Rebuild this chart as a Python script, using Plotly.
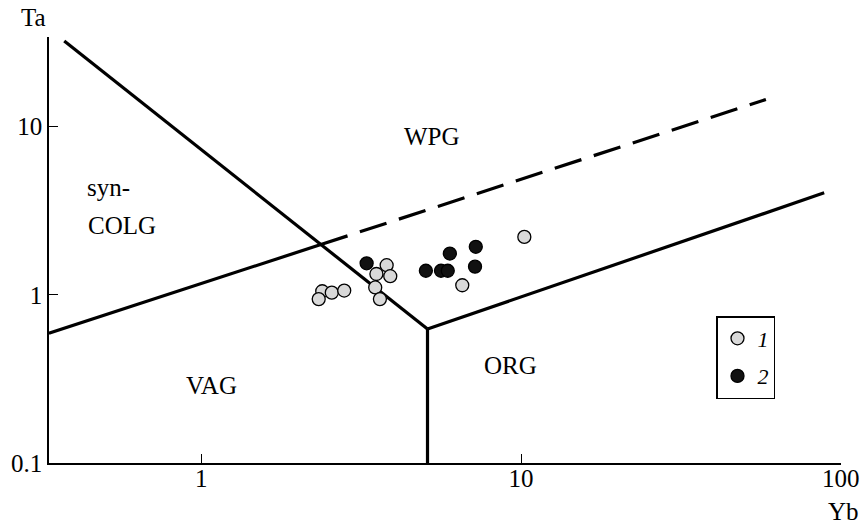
import plotly.graph_objects as go

# ---- data ----
group1_yb = [10.24, 2.39, 2.56, 2.80, 2.33, 3.80, 3.53, 3.90, 3.50, 3.62, 6.55]
group1_ta = [2.21, 1.05, 1.03, 1.06, 0.943, 1.50, 1.33, 1.29, 1.106, 0.943, 1.14]
group2_yb = [3.29, 5.04, 5.62, 5.90, 5.99, 7.22, 7.18]
group2_ta = [1.54, 1.39, 1.39, 1.39, 1.76, 1.93, 1.47]

# field boundaries (Yb, Ta)
line_a_yb = [0.373, 5.10]
line_a_ta = [32.3, 0.626]
line_org_yb = [5.10, 5.10]
line_org_ta = [0.626, 0.1]
line_orgwpg_yb = [5.10, 88.7]
line_orgwpg_ta = [0.626, 4.04]
line_b_yb = [0.334, 2.367]
line_b_ta = [0.592, 1.99]
line_dash_yb = [2.367, 58.3]
line_dash_ta = [1.99, 14.5]

x_tickvals = [1, 10, 100]
x_ticktext = ["1", "10", "100"]
y_tickvals = [0.1, 1, 10]
y_ticktext = ["0.1", "1", "10"]

FONT = "Liberation Serif"

fig = go.Figure()

def add_line(xs, ys, dash="solid"):
    fig.add_trace(go.Scatter(x=xs, y=ys, mode="lines", showlegend=False,
                             line=dict(color="black", width=3.2, dash=dash),
                             hoverinfo="skip"))

add_line(line_a_yb, line_a_ta)
add_line(line_org_yb, line_org_ta)
add_line(line_orgwpg_yb, line_orgwpg_ta)
add_line(line_b_yb, line_b_ta)
add_line(line_dash_yb, line_dash_ta, dash="28px,13px")

fig.add_trace(go.Scatter(x=group1_yb, y=group1_ta, mode="markers", name="<i>1</i>",
                         legendgroup="g1",
                         marker=dict(size=13, color="#d9d9d9",
                                     line=dict(color="black", width=1.3))))
fig.add_trace(go.Scatter(x=group2_yb, y=group2_ta, mode="markers", name="<i>2</i>",
                         legendgroup="g2",
                         marker=dict(size=13, color="#111111",
                                     line=dict(color="black", width=1.3))))

W, H = 862, 525
L, R, T, B = 49, 841, 37, 463

def px(xs):
    return (xs - L) / (R - L)

def py(ys):
    return (B - ys) / (B - T)

labels = [
    ("WPG", 432, 137),
    ("syn-", 108, 187),
    ("COLG", 122, 226),
    ("VAG", 211, 385),
    ("ORG", 510, 365),
]
annotations = []
for txt, x0, y0 in labels:
    annotations.append(dict(text=txt, x=px(x0), y=py(y0), xref="paper", yref="paper",
                            showarrow=False, xanchor="center", yanchor="middle",
                            font=dict(family=FONT, size=25, color="black")))
annotations.append(dict(text="Ta", x=px(33), y=py(18), xref="paper", yref="paper",
                        showarrow=False, xanchor="center", yanchor="middle",
                        font=dict(family=FONT, size=25, color="black")))
annotations.append(dict(text="Yb", x=px(843), y=py(511), xref="paper", yref="paper",
                        showarrow=False, xanchor="center", yanchor="middle",
                        font=dict(family=FONT, size=25, color="black")))

fig.update_layout(
    width=W, height=H,
    margin=dict(l=L, r=W - R, t=T, b=H - B, autoexpand=False),
    plot_bgcolor="white", paper_bgcolor="white",
    font=dict(family=FONT, size=25, color="black"),
    annotations=annotations,
    showlegend=True,
    legend=dict(x=px(716), y=py(316), xanchor="left", yanchor="top",
                bordercolor="black", borderwidth=1.5, bgcolor="white",
                font=dict(family=FONT, size=22, color="black"),
                tracegroupgap=6, itemwidth=30),
    xaxis=dict(type="log", range=[-0.476, 2.0005], showline=True, linecolor="black",
               linewidth=1.5, ticks="inside", ticklen=9, tickwidth=1.2, tickcolor="black",
               tickvals=x_tickvals, ticktext=x_ticktext, showgrid=False, zeroline=False,
               ticklabelstandoff=-8),
    yaxis=dict(type="log", range=[-1, 1.533], showline=True, linecolor="black",
               linewidth=1.5, ticks="inside", ticklen=9, tickwidth=1.2, tickcolor="black",
               tickvals=y_tickvals, ticktext=y_ticktext, showgrid=False, zeroline=False,
               ticklabelstandoff=0),
)

fig.write_html("out.html", config={"displayModeBar": False},
               post_script="document.body.style.margin='0';document.body.style.overflow='hidden';")
